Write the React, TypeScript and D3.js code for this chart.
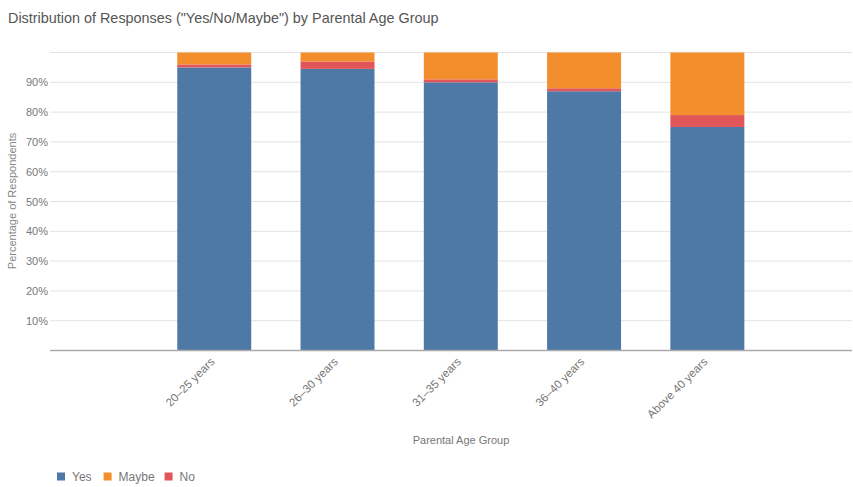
import React from "react";
import * as d3 from "d3";

const categories = ["20–25 years", "26–30 years", "31–35 years", "36–40 years", "Above 40 years"];
const yesValues = [95, 94.5, 90, 87, 75];
const noValues = [1, 2.5, 1, 1, 4];
const maybeValues = [4, 3, 9, 12, 21];
const seriesNames = ["Yes", "No", "Maybe"];
const legendOrder = ["Yes", "Maybe", "No"];
const yTicks = [10, 20, 30, 40, 50, 60, 70, 80, 90];

const colors: Record<string, string> = { Yes: "#4e79a7", Maybe: "#f28e2b", No: "#e15759" };

export default function App() {
  const W = 853, H = 487;
  const left = 50, right = 852, top = 52.5, bottom = 350.5;
  const font = "'Liberation Sans', Arial, sans-serif";

  const rows = categories.map((c, i) => ({ cat: c, Yes: yesValues[i], No: noValues[i], Maybe: maybeValues[i] }));
  const stack = d3.stack<any>().keys(seriesNames)(rows);

  const x = d3.scaleBand().domain(categories).range([152.6, 769]).paddingInner(0.4).paddingOuter(0.2);
  const y = d3.scaleLinear().domain([0, 100]).range([bottom, top]);

  return (
    <svg width={W} height={H} style={{ position: "absolute", left: 0, top: 0, background: "#fff" }} fontFamily={font}>
      <text x={8} y={23} fontSize={14.4} fill="#555">Distribution of Responses ("Yes/No/Maybe") by Parental Age Group</text>
      {[100, ...yTicks].map((t) => (
        <line key={t} x1={left} x2={right} y1={y(t)} y2={y(t)} stroke="#e3e3e3" strokeWidth={1} />
      ))}
      {yTicks.map((t) => (
        <text key={t} x={48} y={y(t) + 4} fontSize={11} fill="#777" textAnchor="end">{t}%</text>
      ))}
      <text transform={`translate(16,201) rotate(-90)`} fontSize={11} fill="#888" textAnchor="middle">Percentage of Respondents</text>
      {stack.map((s) => (
        <g key={s.key} fill={colors[s.key]}>
          {s.map((d: any, i: number) => (
            <rect key={i} x={x(categories[i])} width={x.bandwidth()} y={y(d[1])} height={y(d[0]) - y(d[1])} />
          ))}
        </g>
      ))}
      <line x1={left} x2={right} y1={bottom} y2={bottom} stroke="#aaa" strokeWidth={1.5} />
      {categories.map((c) => (
        <text key={c} transform={`translate(${(x(c) as number) + x.bandwidth() / 2 + 1},${bottom + 12}) rotate(-45)`} fontSize={11.5} fill="#777" textAnchor="end">{c}</text>
      ))}
      <text x={461} y={444} fontSize={11} fill="#777" textAnchor="middle">Parental Age Group</text>
      {(() => {
        let cx = 57;
        return legendOrder.map((k) => {
          const g = (
            <g key={k}>
              <rect x={cx} y={472.5} width={8} height={8} fill={colors[k]} />
              <text x={cx + 15} y={481} fontSize={12} fill="#777">{k}</text>
            </g>
          );
          cx += 15 + k.length * 7.2 + 10;
          return g;
        });
      })()}
    </svg>
  );
}
